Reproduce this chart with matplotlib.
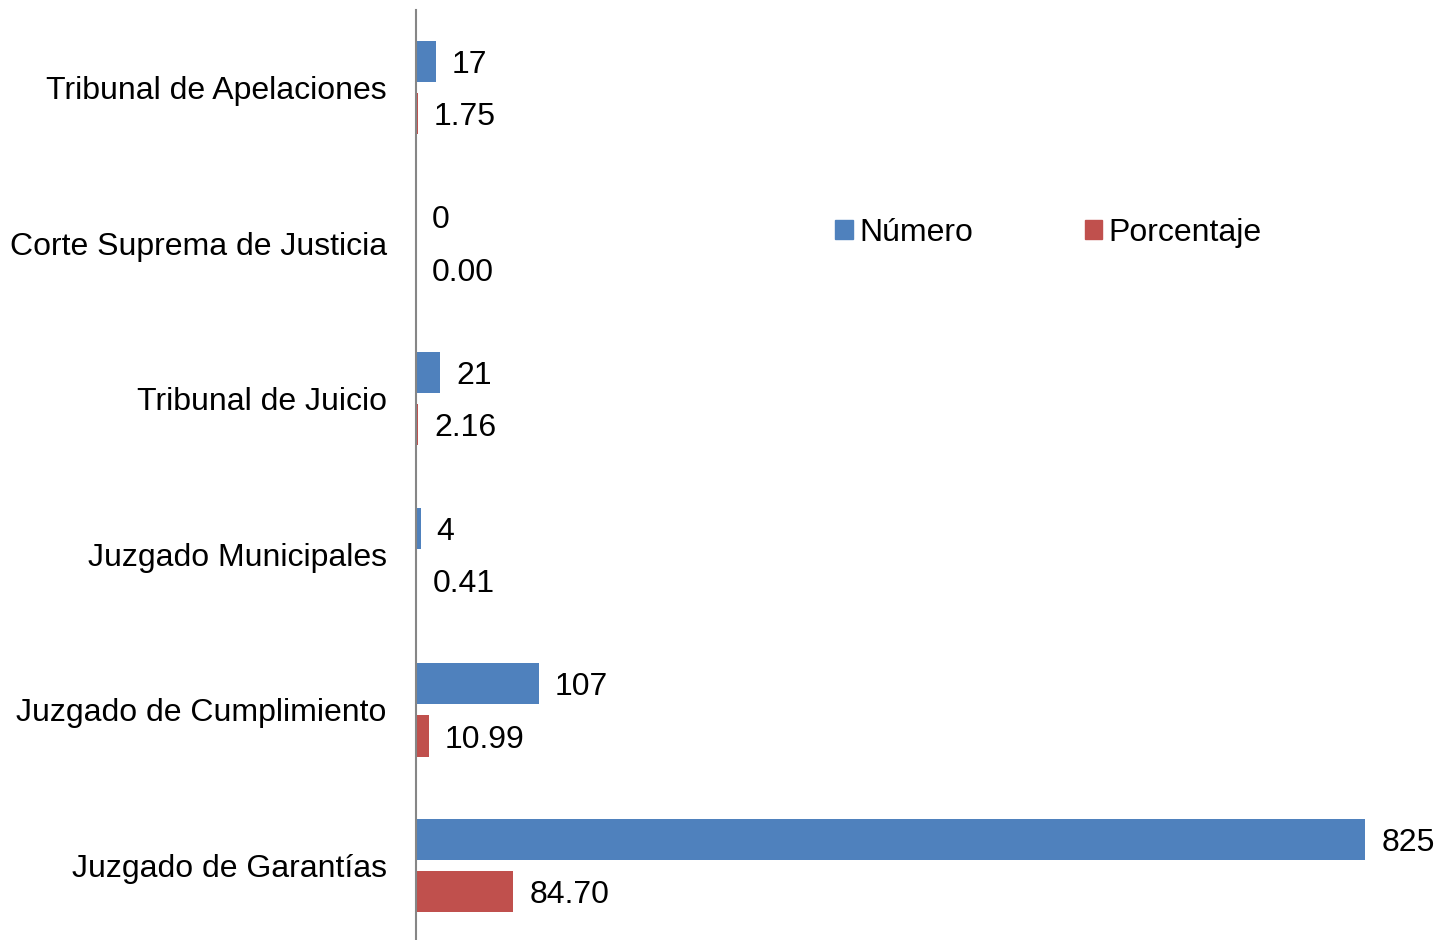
import numpy as np
import matplotlib
matplotlib.use("Agg")
import matplotlib.pyplot as plt
from matplotlib.patches import Patch

plt.rcParams["font.family"] = ["Liberation Sans", "DejaVu Sans"]

# Data (bottom to top)
categories = [
    "Juzgado de Garantías",
    "Juzgado de Cumplimiento",
    "Juzgado Municipales",
    "Tribunal de Juicio",
    "Corte Suprema de Justicia",
    "Tribunal de Apelaciones",
]
numero = [825, 107, 4, 21, 0, 17]
porcentaje = [84.70, 10.99, 0.41, 2.16, 0.00, 1.75]

blue = "#4F81BD"
red = "#C0504D"

fig = plt.figure(figsize=(14.39, 9.40), dpi=100)
ax = fig.add_axes([416 / 1439, -3.3 / 940, 1 - 416 / 1439, 933.6 / 940])

y = np.arange(len(categories))
h = 0.265
off = 0.168

ax.barh(y + off, numero, height=h, color=blue, label="Número")
ax.barh(y - off, porcentaje, height=h, color=red, label="Porcentaje")

# value labels
for yi, v in zip(y, numero):
    ax.annotate(f"{v:d}", (v, yi + off), xytext=(11.5, -2.5),
                textcoords="offset points", va="center", ha="left", fontsize=23)
for yi, v in zip(y, porcentaje):
    ax.annotate(f"{v:.2f}", (v, yi - off), xytext=(11.5, -2.5),
                textcoords="offset points", va="center", ha="left", fontsize=23)

ax.set_xlim(0, 889)
ax.set_ylim(-0.5, len(categories) - 0.5)
ax.set_yticks(y)
ax.set_yticklabels(categories, fontsize=23)
ax.tick_params(axis="y", length=0, pad=21)
ax.set_xticks([])

for s in ["top", "right", "bottom"]:
    ax.spines[s].set_visible(False)
ax.spines["left"].set_color("#868686")
ax.spines["left"].set_linewidth(1.5)

handles = [Patch(color=blue), Patch(color=red)]
fig.legend(
    handles, ["Número", "Porcentaje"],
    loc="center left",
    bbox_to_anchor=(835 / 1439, 1 - 233 / 940),
    ncol=2,
    frameon=False,
    fontsize=23,
    handlelength=0.55,
    handleheight=0.55,
    handletextpad=0.2,
    columnspacing=3.5,
    borderpad=0,
    borderaxespad=0,
)

fig.savefig("out.png", dpi=100)
